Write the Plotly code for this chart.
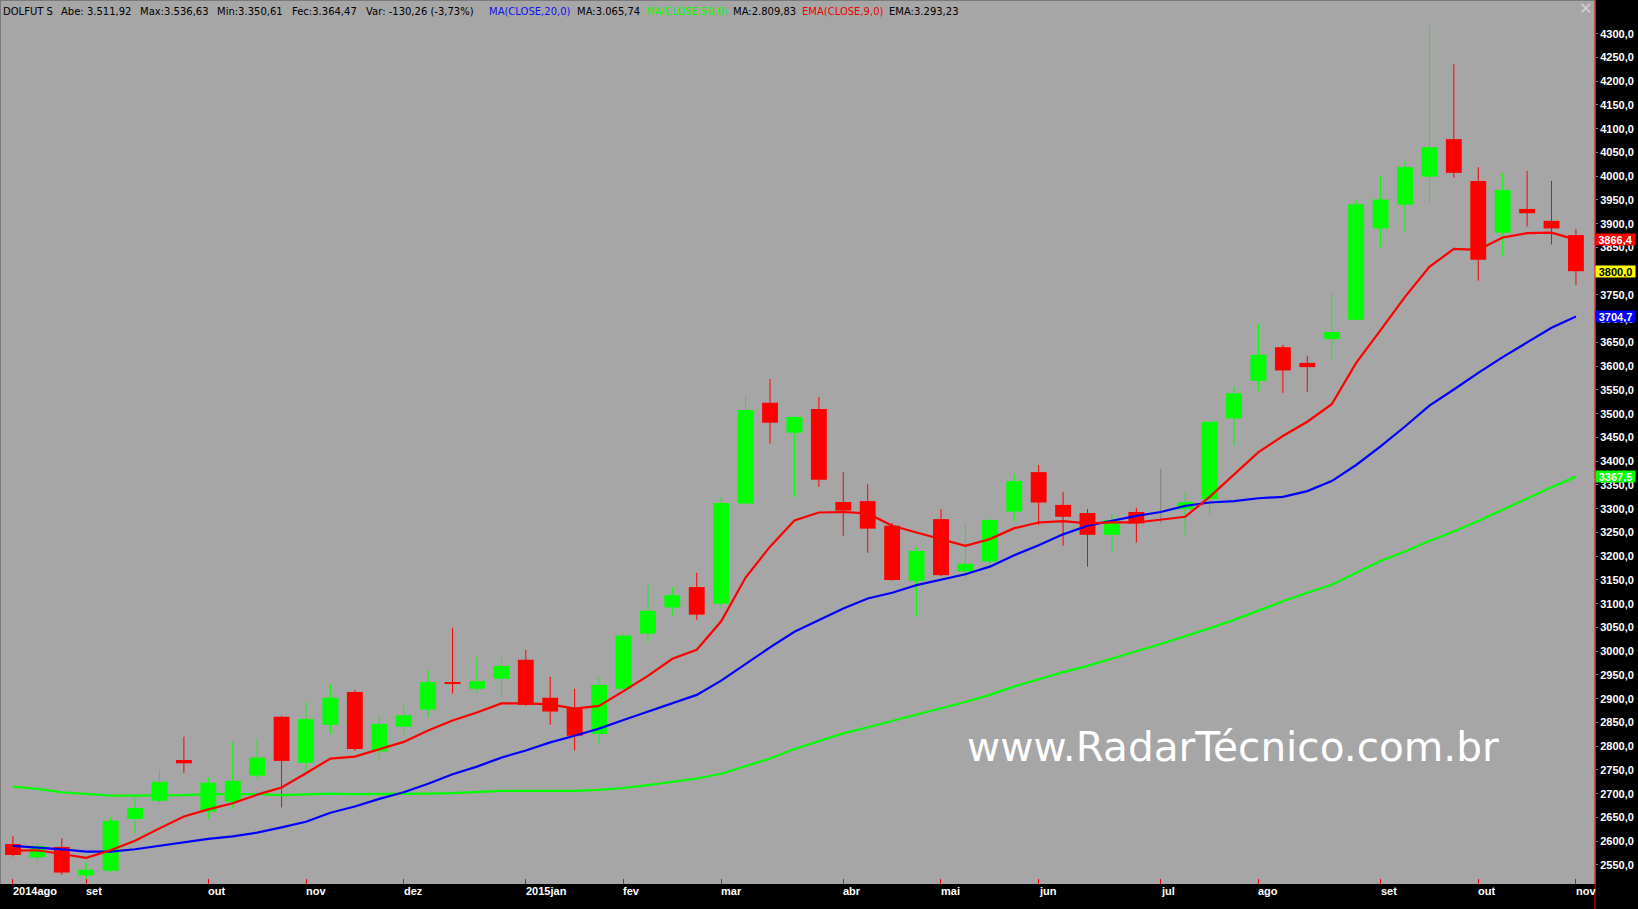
import plotly.graph_objects as go

# ---------------- data (weekly DOLFUT, Aug-2014 .. Nov-2015) ----------------
opens = [2594, 2566, 2588, 2528, 2538, 2647, 2685, 2771, 2662, 2683, 2738, 2862, 2765, 2845, 2914, 2789,
         2841, 2877, 2935, 2921, 2942, 2982, 2902, 2881, 2826, 2921, 3037, 3092, 3135, 3100, 3311, 3523,
         3460, 3510, 3314, 3316, 3264, 3148, 3278, 3168, 3189, 3294, 3377, 3308, 3291, 3245, 3293, 3300,
         3299, 3320, 3490, 3569, 3640, 3607, 3657, 3698, 3890, 3940, 3999, 4078, 3990, 3881, 3931, 3906,
         3876]
highs = [2611, 2596, 2606, 2556, 2651, 2691, 2750, 2820, 2735, 2809, 2817, 2864, 2893, 2931, 2918, 2865,
         2890, 2960, 3049, 2988, 2988, 3003, 2946, 2921, 2944, 3037, 3140, 3135, 3165, 3325, 3540, 3573,
         3494, 3535, 3377, 3352, 3270, 3219, 3299, 3270, 3280, 3373, 3392, 3335, 3299, 3289, 3302, 3384,
         3332, 3484, 3558, 3689, 3645, 3622, 3752, 3950, 4000, 4033, 4318, 4236, 4019, 4007, 4011, 3990,
         3889]
lows = [2568, 2555, 2529, 2518, 2535, 2616, 2679, 2744, 2647, 2668, 2732, 2671, 2746, 2826, 2790, 2772,
        2822, 2861, 2911, 2913, 2904, 2885, 2845, 2791, 2803, 2918, 3018, 3075, 3066, 3090, 3309, 3437,
        3325, 3346, 3243, 3207, 3148, 3073, 3158, 3151, 3179, 3273, 3266, 3222, 3178, 3207, 3229, 3270,
        3244, 3285, 3433, 3547, 3544, 3546, 3610, 3696, 3850, 3884, 3944, 3997, 3780, 3831, 3894, 3856,
        3771]
closes = [2571, 2590, 2534, 2540, 2643, 2670, 2725, 2764, 2723, 2727, 2776, 2769, 2857, 2902, 2794, 2847,
          2865, 2935, 2932, 2937, 2969, 2887, 2873, 2822, 2929, 3033, 3085, 3118, 3077, 3312, 3508, 3481,
          3493, 3361, 3296, 3258, 3150, 3211, 3160, 3184, 3276, 3358, 3313, 3283, 3245, 3276, 3269, 3300,
          3314, 3483, 3543, 3624, 3591, 3598, 3672, 3941, 3951, 4019, 4061, 4007, 3824, 3971, 3922, 3890,
          3800]

ma20 = [2590, 2587, 2583, 2578, 2578, 2583, 2590, 2598, 2605, 2610, 2618, 2629, 2641, 2660, 2673, 2689,
        2703, 2721, 2741, 2757, 2776, 2791, 2808, 2822, 2837, 2855, 2873, 2890, 2908, 2938, 2973, 3008,
        3041, 3065, 3090, 3111, 3123, 3139, 3151, 3162, 3178, 3202, 3223, 3246, 3264, 3274, 3285, 3293,
        3306, 3313, 3316, 3322, 3325, 3337, 3358, 3392, 3431, 3473, 3517, 3551, 3586, 3619, 3650, 3681,
        3704.7]
ma50 = [2715, 2710, 2703, 2700, 2696, 2696, 2696, 2697, 2699, 2699, 2699, 2697, 2699, 2700, 2699, 2699,
        2699, 2700, 2701, 2703, 2706, 2706, 2706, 2706, 2708, 2712, 2718, 2725, 2732, 2742, 2758, 2774,
        2794, 2810, 2827, 2840, 2853, 2866, 2879, 2893, 2908, 2926, 2941, 2956, 2969, 2985, 3000, 3015,
        3031, 3048, 3066, 3086, 3105, 3123, 3140, 3165, 3190, 3210, 3232, 3252, 3274, 3298, 3322, 3345,
        3367.5]
ema9 = [2580, 2581, 2573, 2565, 2581, 2601, 2627, 2652, 2667, 2680, 2698, 2713, 2743, 2774, 2778, 2794,
        2809, 2833, 2854, 2871, 2890, 2890, 2888, 2879, 2885, 2916, 2948, 2984, 3003, 3063, 3155, 3220,
        3275, 3292, 3293, 3290, 3264, 3250, 3236, 3222, 3236, 3259, 3271, 3274, 3269, 3271, 3271, 3277,
        3283, 3325, 3371, 3419, 3453, 3483, 3520, 3607, 3676, 3746, 3809, 3847, 3845, 3871, 3880, 3881,
        3866.4]

month_idx = [0, 3, 8, 12, 16, 21, 25, 29, 34, 38, 42, 47, 51, 56, 60, 64]
month_lbl = ["2014ago", "set", "out", "nov", "dez", "2015jan", "fev", "mar", "abr", "mai", "jun",
             "jul", "ago", "set", "out", "nov"]

y_ticks = list(range(2550, 4301, 50))
y_ticktext = [f"{v},0" for v in y_ticks]

last_labels = [  # (value, text, background, font colour)
    (3866.4, "3866,4", "#FF0000", "white"),
    (3800.0, "3800,0", "#FFFF00", "black"),
    (3704.7, "3704,7", "#0000FF", "white"),
    (3367.5, "3367,5", "#00FF00", "white"),
]

header = [  # (text, colour, left pixel)
    ("DOLFUT S", "#000000", 3),
    ("Abe: 3.511,92", "#000000", 61),
    ("Max:3.536,63", "#000000", 140),
    ("Min:3.350,61", "#000000", 217),
    ("Fec:3.364,47", "#000000", 292),
    ("Var: -130,26 (-3,73%)", "#000000", 366),
    ("MA(CLOSE,20,0)", "#1010F0", 489),
    ("MA:3.065,74", "#000000", 577),
    ("MA(CLOSE,50,0)", "#00FF00", 646),
    ("MA:2.809,83", "#000000", 733),
    ("EMA(CLOSE,9,0)", "#F00000", 802),
    ("EMA:3.293,23", "#000000", 889),
]

# ---------------- figure ----------------
W, H = 1638, 909
ML, MR, MT, MB = 0, 43, 0, 25
PW, PH = W - ML - MR, H - MT - MB

GREEN, RED, GRAY = "#00FF00", "#FF0000", "#808080"
x = list(range(len(opens)))

def col(o, c):
    if c > o:
        return GREEN
    if c < o:
        return RED
    return GRAY

colors = [col(o, c) for o, c in zip(opens, closes)]

fig = go.Figure()

# wicks, one trace per colour
for cc in (GREEN, RED, GRAY):
    wx, wy = [], []
    for i in x:
        if colors[i] == cc:
            wx += [i, i, None]
            wy += [lows[i], highs[i], None]
    fig.add_trace(go.Scatter(x=wx, y=wy, mode="lines", line=dict(color=cc, width=1),
                             hoverinfo="skip", connectgaps=False))

# bodies
fig.add_trace(go.Bar(
    x=x,
    base=[min(o, c) for o, c in zip(opens, closes)],
    y=[abs(c - o) for o, c in zip(opens, closes)],
    width=0.65,
    marker=dict(color=colors, line=dict(width=0)),
    hoverinfo="skip",
))

# moving averages
fig.add_trace(go.Scatter(x=x, y=ma50, mode="lines", line=dict(color="#00FF00", width=2.2)))
fig.add_trace(go.Scatter(x=x, y=ma20, mode="lines", line=dict(color="#0000FF", width=2.2)))
fig.add_trace(go.Scatter(x=x, y=ema9, mode="lines", line=dict(color="#FF0000", width=2.2)))

annotations = []
for t, c, px in header:
    annotations.append(dict(text=t, xref="paper", yref="paper", x=px / PW, y=1 - 12 / PH,
                            xanchor="left", yanchor="middle", showarrow=False, borderpad=0,
                            xshift=-1, font=dict(family="DejaVu Sans", size=10, color=c)))

for i, lbl in zip(month_idx, month_lbl):
    annotations.append(dict(text=lbl, x=i, xref="x", yref="paper", y=0, yshift=-7,
                            xanchor="left", yanchor="middle", showarrow=False, borderpad=0, xshift=-1,
                            font=dict(family="Liberation Sans", size=11, color="white", weight="bold")))

for v, t, bg, fc in last_labels:
    annotations.append(dict(text=t, x=1, xref="paper", y=v, yref="y", xanchor="left",
                            yanchor="middle", showarrow=False, bgcolor=bg, borderpad=0,
                            width=39, height=11, align="center", xshift=0,
                            font=dict(family="Liberation Sans", size=11, color=fc, weight="bold")))

annotations.append(dict(text="www.RadarTécnico.com.br", xref="paper", yref="paper",
                        x=966 / PW, y=1 - 747 / PH, xanchor="left", yanchor="middle",
                        showarrow=False, borderpad=0,
                        font=dict(family="DejaVu Sans", size=40.6, color="white")))

annotations.append(dict(text="✕", xref="paper", yref="paper", x=1585 / PW, y=1 - 9 / PH,
                        xanchor="center", yanchor="middle", showarrow=False,
                        font=dict(family="DejaVu Sans", size=16, color="#D2D2D2")))

fig.update_layout(
    template="none",
    width=W, height=H,
    margin=dict(l=ML, r=MR, t=MT, b=MB, pad=0),
    paper_bgcolor="black",
    plot_bgcolor="#A6A6A6",
    showlegend=False,
    barmode="overlay",
    xaxis=dict(range=[-0.53, 64.78], tickvals=month_idx, ticks="inside", ticklen=5,
               tickcolor="#FF0000", tickwidth=1, showticklabels=False, showgrid=False,
               zeroline=False, showline=False, automargin=False, fixedrange=True),
    yaxis=dict(side="right", range=[2509.9, 4370.9], tickvals=y_ticks, ticktext=y_ticktext,
               ticks="outside", ticklen=2, tickcolor="#8A8AB0", showgrid=False, zeroline=False,
               showline=True, linecolor="#FF0000", linewidth=1, automargin=False, fixedrange=True,
               tickfont=dict(family="Liberation Sans", size=11, color="white", weight="bold")),
    annotations=annotations,
    shapes=[
        dict(type="line", xref="paper", yref="paper", x0=1, x1=1, y0=-MB / PH, y1=1,
             line=dict(color="#FF0000", width=1)),
        dict(type="line", xref="paper", yref="paper", x0=0, x1=0, y0=0, y1=1,
             line=dict(color="#7A7A7A", width=2)),
        dict(type="line", xref="paper", yref="paper", x0=0, x1=1, y0=1, y1=1,
             line=dict(color="#7A7A7A", width=2)),
    ],
)

fig.write_html(
    "out.html",
    config={"displayModeBar": False},
    post_script="document.body.style.margin='0';document.body.style.padding='0';"
                "document.body.style.background='black';document.body.style.overflow='hidden';",
)
